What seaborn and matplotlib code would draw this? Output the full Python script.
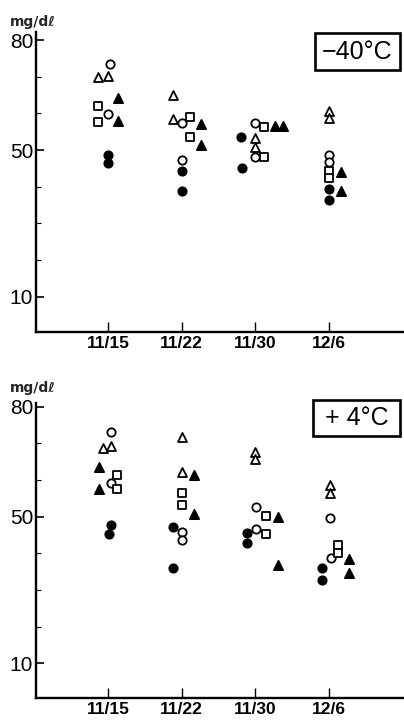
import matplotlib
matplotlib.use("Agg")
import matplotlib.pyplot as plt
from matplotlib.patches import Rectangle
import seaborn as sns
import pandas as pd

# ---------------- data ----------------
dates = ["11/15", "11/22", "11/30", "12/6"]
date_idx = [0, 0, 1, 1, 2, 2, 3, 3]
groups = ["open_circle", "open_square", "open_triangle", "filled_circle", "filled_triangle"]

# -40°C panel (values mg/dl, two animals per symbol per date)
cold_open_circle = [73.5, 59.8, 57.4, 47.3, 57.5, 48.2, 48.6, 46.7]
cold_open_square = [62.0, 57.6, 59.0, 53.5, 56.4, 48.2, 44.3, 42.4]
cold_open_triangle = [69.9, 70.2, 65.0, 58.5, 53.2, 50.9, 60.6, 58.7]
cold_filled_circle = [48.6, 46.5, 44.3, 38.8, 53.6, 45.1, 39.4, 36.4]
cold_filled_triangle = [64.2, 57.9, 57.1, 51.4, 56.5, 56.5, 43.9, 38.8]
# horizontal dodge (fraction of date spacing) as drawn in the original
cold_open_circle_dx = [0.03, 0.0, 0.0, 0.0, 0.0, 0.0, 0.0, 0.0]
cold_open_square_dx = [-0.14, -0.14, 0.11, 0.11, 0.12, 0.12, 0.0, 0.0]
cold_open_triangle_dx = [-0.14, 0.0, -0.12, -0.12, -0.01, -0.01, 0.0, 0.0]
cold_filled_circle_dx = [0.0, 0.0, 0.01, 0.01, -0.19, -0.18, 0.0, 0.0]
cold_filled_triangle_dx = [0.14, 0.14, 0.26, 0.26, 0.27, 0.37, 0.16, 0.16]

# +4°C panel
warm_open_circle = [73.0, 59.2, 45.8, 43.6, 52.6, 46.5, 49.6, 38.7]
warm_open_square = [61.3, 57.5, 56.4, 53.2, 50.2, 45.3, 42.3, 40.1]
warm_open_triangle = [68.7, 69.3, 71.7, 62.2, 67.6, 65.7, 58.6, 56.5]
warm_filled_circle = [47.7, 45.3, 47.2, 36.0, 45.5, 42.8, 36.0, 32.7]
warm_filled_triangle = [63.5, 57.5, 61.4, 50.7, 49.9, 36.8, 38.5, 34.6]
warm_open_circle_dx = [0.04, 0.04, 0.01, 0.01, 0.01, 0.01, 0.01, 0.03]
warm_open_square_dx = [0.12, 0.12, 0.01, 0.01, 0.14, 0.14, 0.12, 0.12]
warm_open_triangle_dx = [-0.07, 0.04, 0.0, 0.0, 0.0, 0.0, 0.01, 0.01]
warm_filled_circle_dx = [0.04, 0.01, -0.12, -0.12, -0.12, -0.12, -0.09, -0.09]
warm_filled_triangle_dx = [-0.12, -0.12, 0.16, 0.16, 0.31, 0.31, 0.27, 0.27]

yticks_major = [10, 50, 80]
yticks_minor = [20, 30, 40, 60, 70]


def build(prefix):
    rows = []
    g = globals()
    for grp in groups:
        vals = g[f"{prefix}_{grp}"]
        dxs = g[f"{prefix}_{grp}_dx"]
        for d, v, dx in zip(date_idx, vals, dxs):
            rows.append({"group": grp, "date": d, "value": v, "x": d + dx})
    return pd.DataFrame(rows)


cold = build("cold")
warm = build("warm")

# ---------------- style ----------------
sns.set_style("ticks")
plt.rcParams["font.family"] = ["Liberation Sans Narrow", "Liberation Sans", "DejaVu Sans"]

marker_style = {
    "open_circle": ("o", "white", 36),
    "open_square": ("s", "white", 26),
    "open_triangle": ("^", "white", 42),
    "filled_circle": ("o", "black", 36),
    "filled_triangle": ("^", "black", 44),
}

W, H = 404, 720
fig = plt.figure(figsize=(W / 100, H / 100), dpi=100)
ax_top = fig.add_axes([36 / W, 1 - 332.3 / H, 368 / W, 300.3 / H])
ax_bot = fig.add_axes([36 / W, 1 - 698.3 / H, 368 / W, 295.3 / H])


def draw(ax, df, ylim, label, box):
    for grp in groups:
        sub = df[df["group"] == grp]
        m, fc, size = marker_style[grp]
        sns.scatterplot(data=sub, x="x", y="value", marker=m, color=fc,
                        edgecolor="black", linewidth=1.3, s=size, ax=ax,
                        legend=False, zorder=3, clip_on=False)
    ax.set_xlim(-0.977, 4.016)
    ax.set_ylim(*ylim)
    ax.set_xticks(range(len(dates)))
    ax.set_xticklabels(dates)
    ax.set_yticks(yticks_major)
    ax.set_yticklabels([str(t) for t in yticks_major])
    ax.set_yticks(yticks_minor, minor=True)
    ax.set_xlabel("")
    ax.set_ylabel("")
    for s in ["top", "right"]:
        ax.spines[s].set_visible(False)
    for s in ["left", "bottom"]:
        ax.spines[s].set_linewidth(1.7)
        ax.spines[s].set_color("black")
    ax.tick_params(axis="x", direction="in", length=7, width=1.0, pad=3,
                   labelsize=12.5, colors="black")
    ax.tick_params(axis="y", which="major", direction="in", length=6, width=1.2,
                   pad=2, labelsize=15, colors="black")
    ax.tick_params(axis="y", which="minor", direction="in", length=3.5, width=0.8,
                   colors="black")
    for t in ax.get_xticklabels():
        t.set_fontweight("bold")
    x0, y0, w, h = box
    ax.add_patch(Rectangle((x0, y0), w, h, transform=ax.transAxes, fill=False,
                           edgecolor="black", linewidth=1.9, clip_on=False))
    ax.text(x0 + w / 2, y0 + h / 2, label, transform=ax.transAxes,
            ha="center", va="center", fontsize=18, color="black")


draw(ax_top, cold, (0.3, 82.2), "−40°C", (0.758, 0.873, 0.231, 0.123))
draw(ax_bot, warm, (0.45, 81.0), "+ 4°C", (0.753, 0.888, 0.236, 0.122))

fig.text(10 / W, 1 - 22 / H, "mg/dℓ", ha="left", va="center", fontsize=10,
         fontweight="bold", family=["DejaVu Sans"])
fig.text(10 / W, 1 - 388 / H, "mg/dℓ", ha="left", va="center", fontsize=10,
         fontweight="bold", family=["DejaVu Sans"])

fig.savefig("out.png", dpi=100)
